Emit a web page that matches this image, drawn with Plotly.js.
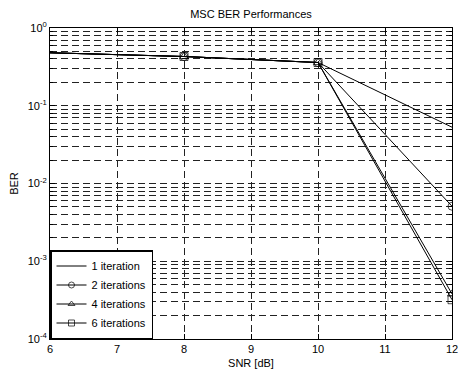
<!DOCTYPE html>
<html>
<head>
<meta charset="utf-8">
<script src="https://cdn.plot.ly/plotly-3.0.1.min.js"></script>
<style>html,body{margin:0;padding:0;background:#fff;}#chart{width:458px;height:369px;}</style>
</head>
<body>
<div id="chart"></div>
<script>
const snr = [6, 8, 10, 12];
const ber1 = [0.48, 0.43, 0.36, 0.053];
const ber2 = [0.48, 0.43, 0.36, 0.0051];
const ber4 = [0.48, 0.43, 0.36, 0.00038];
const ber6 = [0.48, 0.43, 0.36, 0.00032];
const seriesNames = ['1 iteration', '2 iterations', '4 iterations', '6 iterations'];
const xTicks = [6, 7, 8, 9, 10, 11, 12];
const yTickVals = [1e-4, 1e-3, 1e-2, 1e-1, 1];
const yTickText = ['10<sup>-4</sup>', '10<sup>-3</sup>', '10<sup>-2</sup>', '10<sup>-1</sup>', '10<sup>0</sup>'];

const minorVals = [];
for (let d = 0; d < yTickVals.length - 1; d++) {
  for (let m = 2; m <= 9; m++) minorVals.push(yTickVals[d] * m);
}

const font = {family: '"Liberation Sans", Arial, sans-serif', size: 11, color: '#000'};
const msize = [0, 8, 8, 8];

const traces = [
  {x: snr, y: ber1, name: seriesNames[0], mode: 'lines', line: {color: '#000', width: 1}},
  {x: snr, y: ber2, name: seriesNames[1], mode: 'lines+markers', line: {color: '#000', width: 1},
   marker: {symbol: 'circle-open', size: msize, color: '#000', line: {width: 1}}},
  {x: snr, y: ber4, name: seriesNames[2], mode: 'lines+markers', line: {color: '#000', width: 1},
   marker: {symbol: 'triangle-up-open', size: msize, color: '#000', line: {width: 1}}},
  {x: snr, y: ber6, name: seriesNames[3], mode: 'lines+markers', line: {color: '#000', width: 1},
   marker: {symbol: 'square-open', size: msize, color: '#000', line: {width: 1}}}
];

const layout = {
  width: 458, height: 369,
  margin: {l: 50, r: 6, t: 28, b: 30},
  paper_bgcolor: '#fff', plot_bgcolor: '#fff',
  font: font,
  showlegend: true,
  title: {text: 'MSC BER Performances', font: {family: font.family, size: 11, color: '#000'}, x: 0.5, xref: 'paper', y: 1, yref: 'container', yanchor: 'top', pad: {t: 10}},
  xaxis: {
    range: [6, 12], tickmode: 'array', tickvals: xTicks, ticktext: xTicks.map(String),
    ticks: 'inside', ticklen: 5, tickcolor: '#000', mirror: 'ticks',
    ticklabeloverflow: 'allow',
    showline: true, linecolor: '#000', linewidth: 1,
    showgrid: true, gridcolor: '#222', gridwidth: 1, griddash: '7px,4px',
    zeroline: false,
    title: {text: 'SNR [dB]', font: font, standoff: 7},
    tickfont: font
  },
  yaxis: {
    type: 'log', range: [-4, 0], tickmode: 'array', tickvals: yTickVals, ticktext: yTickText,
    ticks: 'inside', ticklen: 5, tickcolor: '#000', mirror: 'ticks',
    showline: true, linecolor: '#000', linewidth: 1,
    showgrid: true, gridcolor: '#222', gridwidth: 1, griddash: '7px,4px',
    zeroline: false,
    minor: {tickmode: 'array', tickvals: minorVals, ticks: 'inside', ticklen: 3, tickcolor: '#000',
            showgrid: true, gridcolor: '#222', gridwidth: 1, griddash: '7px,4px'},
    title: {text: 'BER', font: font, standoff: 6},
    tickfont: font
  },
  legend: {
    x: 0, y: 0, xanchor: 'left', yanchor: 'bottom',
    bgcolor: '#fff', bordercolor: '#000', borderwidth: 1.5,
    font: font, tracegroupgap: 0, itemwidth: 30
  }
};

Plotly.newPlot('chart', traces, layout, {staticPlot: true, displayModeBar: false});
</script>
</body>
</html>
